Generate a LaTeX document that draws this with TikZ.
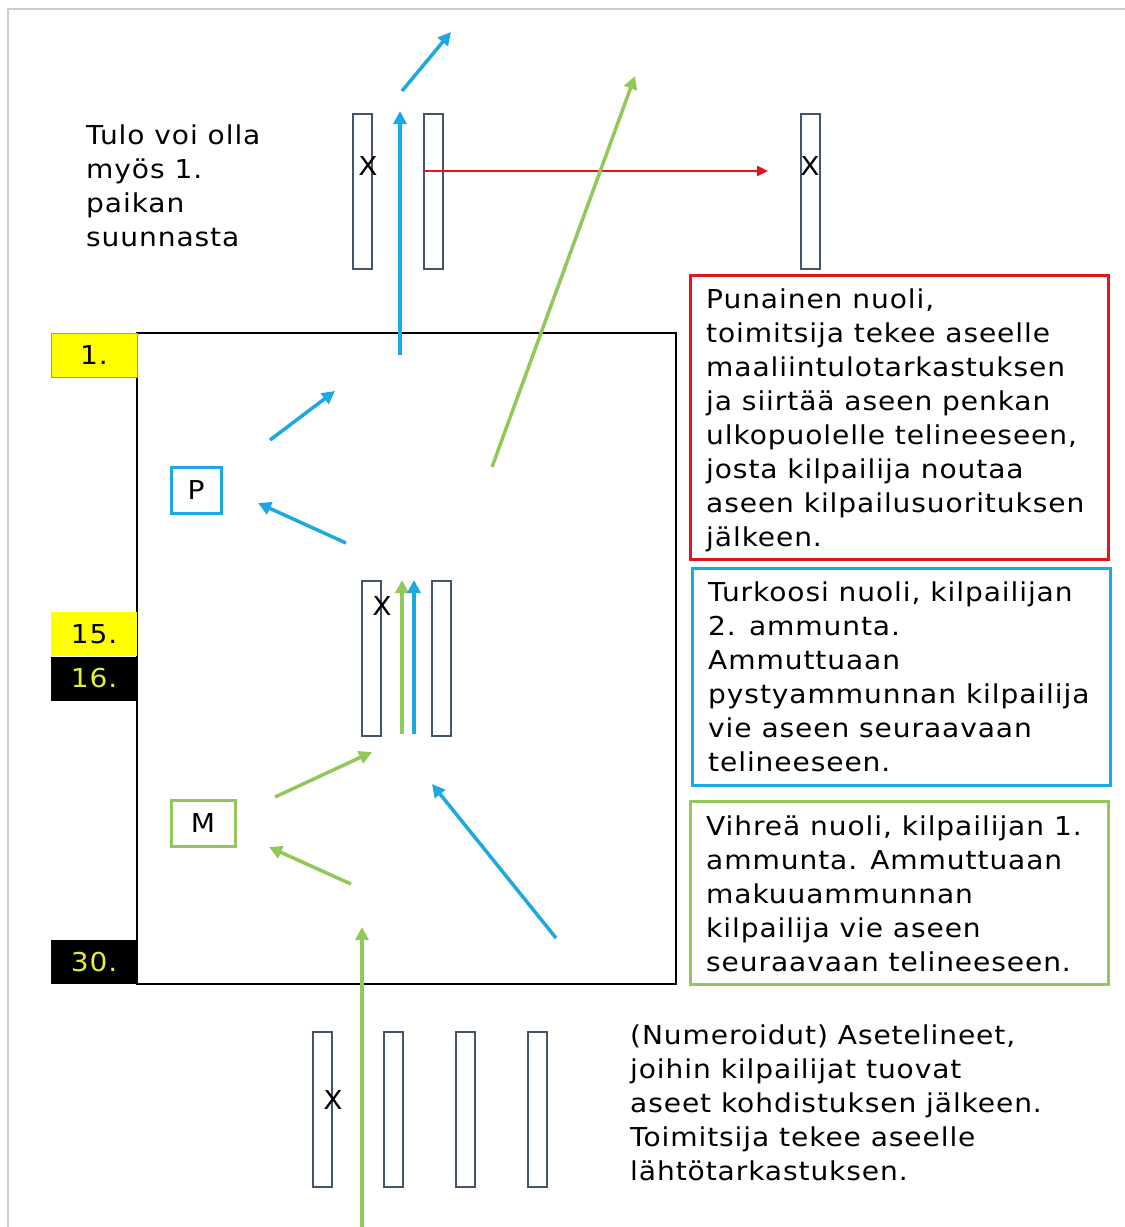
\documentclass[tikz,border=0pt]{standalone}
\usepackage{fontspec}
\setmainfont{DejaVu Sans}[FakeStretch=1.08, LetterSpace=3.5]
\usetikzlibrary{arrows.meta}
\definecolor{cblue}{HTML}{1CA8E0}
\definecolor{cgreen}{HTML}{92C85A}
\definecolor{cred}{HTML}{E0161E}
\definecolor{crack}{HTML}{44546A}
\definecolor{cyel}{HTML}{FFFF00}
\definecolor{cyeltext}{HTML}{E6EE3C}
\definecolor{cframe}{HTML}{CCCCCC}
\tikzset{
  txt/.style={font=\fontsize{26}{34}\selectfont, align=left, anchor=north west, inner sep=0pt},
  rack/.style={draw=crack, line width=2pt, minimum width=19pt, minimum height=155pt, inner sep=0pt},
  xmark/.style={font=\fontsize{26}{26}\selectfont, inner sep=0pt},
  arr/.style={line width=3.5pt, -{Triangle[length=13pt,width=13pt]}},
  barrow/.style={arr, draw=cblue, fill=cblue},
  garrow/.style={arr, draw=cgreen, fill=cgreen},
  rarrow/.style={line width=2.5pt, draw=cred, -{Triangle[length=11pt,width=10pt]}},
  lab/.style={minimum width=86pt, minimum height=44pt, inner sep=0pt, font=\fontsize{26}{26}\selectfont},
  letterbox/.style={line width=3pt, minimum height=46pt, inner sep=0pt, font=\fontsize{26}{26}\selectfont},
  infobox/.style={line width=3pt, inner sep=0pt}
}
\begin{document}
\begin{tikzpicture}[x=1pt,y=-1pt]
\useasboundingbox (0,0) rectangle (1125,1227);
\fill[white] (0,0) rectangle (1125,1227);
% frame
\draw[cframe, line width=2.5pt] (8,1227) -- (8,9) -- (1125,9);

% main area
\node[draw=black, line width=1.5pt, minimum width=539pt, minimum height=651pt, inner sep=0pt] (bench) at (406.5,658.5) {};
\node[lab, fill=cyel, draw=crack!60, line width=0.8pt] (l1) at (94,355) {1.};
\node[lab, fill=cyel] (l15) at (94,634) {15.};
\node[lab, fill=black, text=cyeltext] (l16) at (94,678.5) {16.};
\node[lab, fill=black, text=cyeltext] (l30) at (94,962) {30.};

% top racks
\node[rack] (t1) at (362,191.5) {};
\node[xmark] (tx1) at (368,166) {X};
\node[rack] (t2) at (433.5,191.5) {};
\node[rack] (t3) at (810.5,191.5) {};
\node[xmark] (tx3) at (810,166) {X};

% middle racks
\node[rack] (m1) at (371,658.5) {};
\node[xmark] (mx1) at (382,606) {X};
\node[rack] (m2) at (441,658.5) {};

% bottom racks
\node[rack] (b1) at (322.5,1109) {};
\node[xmark] (bx1) at (333,1100) {X};
\node[rack] (b2) at (393.5,1109) {};
\node[rack] (b3) at (465.5,1109) {};
\node[rack] (b4) at (537.5,1109) {};

% P and M
\node[letterbox, draw=cblue, minimum width=50pt] (P) at (196,490) {P};
\node[letterbox, draw=cgreen, minimum width=64pt] (M) at (203,823) {M};

% arrows
\draw[barrow] (400,355) coordinate (bv0) -- (400,111) coordinate (bv1);
\draw[barrow] (402,91) coordinate (bd0) -- (451,32) coordinate (bd1);
\draw[rarrow] (t2.west |- 0,171) coordinate (r0) -- (768,171) coordinate (r1);
\draw[garrow] (492,467) coordinate (gl0) -- (635,76) coordinate (gl1);
\draw[barrow] (270,440) coordinate (bp0) -- (335,391) coordinate (bp1);
\draw[barrow] (346,543) coordinate (bq0) -- (258,503) coordinate (bq1);
\draw[garrow] (402,734) coordinate (gm0) -- (402,580) coordinate (gm1);
\draw[barrow] (414,734) coordinate (bm0) -- (414,580) coordinate (bm1);
\draw[garrow] (275,797) coordinate (gp0) -- (372,752) coordinate (gp1);
\draw[garrow] (351,884) coordinate (gq0) -- (269,847) coordinate (gq1);
\draw[barrow] (556,938) coordinate (bb0) -- (432,784) coordinate (bb1);
\draw[garrow] (362,1227) coordinate (gb0) -- (362,927) coordinate (gb1);

% info boxes
\node[infobox, draw=cred, minimum width=418pt, minimum height=284pt] (redbox) at (899,417) {};
\node[infobox, draw=cblue, minimum width=418pt, minimum height=217pt] (bluebox) at (901,676.5) {};
\node[infobox, draw=cgreen, minimum width=418pt, minimum height=183pt] (greenbox) at (899,892.5) {};

\node[txt] (redtxt) at (706,284.2) {\strut Punainen nuoli,\\toimitsija tekee aseelle\\maaliintulotarkastuksen\\ja siirtää aseen penkan\\ulkopuolelle telineeseen,\\josta kilpailija noutaa\\aseen kilpailusuorituksen\\jälkeen.};
\node[txt] (bluetxt) at (708,577.2) {\strut Turkoosi nuoli, kilpailijan\\2. ammunta.\\Ammuttuaan\\pystyammunnan kilpailija\\vie aseen seuraavaan\\telineeseen.};
\node[txt] (greentxt) at (706,811.2) {\strut Vihreä nuoli, kilpailijan 1.\\ammunta. Ammuttuaan\\makuuammunnan\\kilpailija vie aseen\\seuraavaan telineeseen.};
\node[txt] (tulotxt) at (86,120.2) {\strut Tulo voi olla\\myös 1.\\paikan\\suunnasta};
\node[txt] (numtxt) at (630,1020.2) {\strut (Numeroidut) Asetelineet,\\joihin kilpailijat tuovat\\aseet kohdistuksen jälkeen.\\Toimitsija tekee aseelle\\lähtötarkastuksen.};
\end{tikzpicture}
\end{document}
